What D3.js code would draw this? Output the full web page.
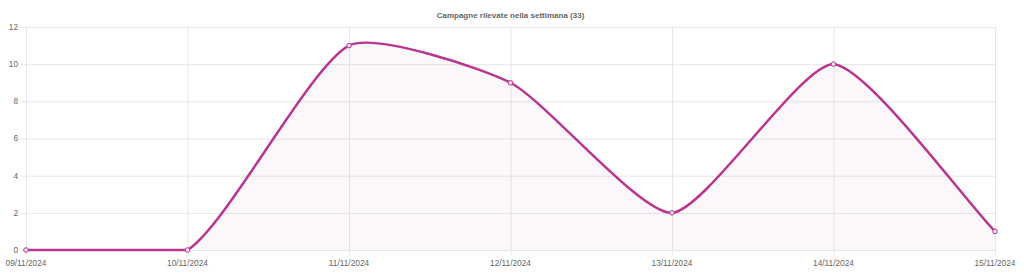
<!DOCTYPE html>
<html>
<head>
<meta charset="utf-8">
<script src="https://cdn.jsdelivr.net/npm/d3@7"></script>
<style>
  body { margin: 0; background: #fff; }
  svg { display: block; font-family: "Liberation Sans", Arial, sans-serif; }
</style>
</head>
<body>
<svg></svg>
<script>
const days = ["09/11/2024", "10/11/2024", "11/11/2024", "12/11/2024", "13/11/2024", "14/11/2024", "15/11/2024"];
const campaigns = [0, 0, 11, 9, 2, 10, 1];
const yTicks = [0, 2, 4, 6, 8, 10, 12];
const title = "Campagne rilevate nella settimana (33)";

const width = 1024, height = 274;
const margin = { top: 27, right: 29, bottom: 24, left: 26 };
const lineColor = "#b8368f";

const svg = d3.select("svg").attr("width", width).attr("height", height);

const x = d3.scalePoint()
    .domain(days)
    .range([margin.left, width - margin.right]);

const y = d3.scaleLinear()
    .domain([0, 12])
    .range([height - margin.bottom, margin.top]);

// grid
svg.append("g").selectAll("line")
    .data(yTicks)
    .join("line")
    .attr("x1", margin.left - 5)
    .attr("x2", width - margin.right)
    .attr("y1", d => y(d) + 0.5)
    .attr("y2", d => y(d) + 0.5)
    .attr("stroke", "#e6e6e6");

svg.append("g").selectAll("line")
    .data(days)
    .join("line")
    .attr("x1", d => x(d) + 0.5)
    .attr("x2", d => x(d) + 0.5)
    .attr("y1", margin.top)
    .attr("y2", height - margin.bottom + 5)
    .attr("stroke", "#e6e6e6");

// y labels
svg.append("g").selectAll("text")
    .data(yTicks)
    .join("text")
    .attr("x", margin.left - 8)
    .attr("y", d => y(d))
    .attr("dy", "0.35em")
    .attr("text-anchor", "end")
    .attr("font-size", 8.3)
    .attr("fill", "#666")
    .text(d => d);

// x labels
svg.append("g").selectAll("text")
    .data(days)
    .join("text")
    .attr("x", d => x(d))
    .attr("y", height - margin.bottom + 16)
    .attr("text-anchor", "middle")
    .attr("font-size", 8.3)
    .attr("fill", "#666")
    .text(d => d);

// title
svg.append("text")
    .attr("x", (margin.left + width - margin.right) / 2)
    .attr("y", 18)
    .attr("text-anchor", "middle")
    .attr("font-size", 8)
    .attr("font-weight", "bold")
    .attr("fill", "#666")
    .text(title);

// points in pixel space
const pts = days.map((d, i) => ({ x: x(d), y: y(campaigns[i]) }));

// spline like chart.js (control points kept inside the area)
function splinePath(p, closeToBase) {
    const t = 0.2;
    const cps = p.map((cur, i) => {
        const prev = p[i - 1] || cur, next = p[i + 1] || cur;
        const d01 = Math.hypot(cur.x - prev.x, cur.y - prev.y);
        const d12 = Math.hypot(next.x - cur.x, next.y - cur.y);
        let s01 = d01 / (d01 + d12), s12 = d12 / (d01 + d12);
        if (isNaN(s01)) s01 = 0;
        if (isNaN(s12)) s12 = 0;
        const fa = t * s01, fb = t * s12;
        const clampY = v => Math.max(margin.top, Math.min(height - margin.bottom, v));
        return {
            px: cur.x - fa * (next.x - prev.x),
            py: clampY(cur.y - fa * (next.y - prev.y)),
            nx: cur.x + fb * (next.x - prev.x),
            ny: clampY(cur.y + fb * (next.y - prev.y))
        };
    });
    const path = d3.path();
    path.moveTo(p[0].x, p[0].y);
    for (let i = 1; i < p.length; i++) {
        path.bezierCurveTo(cps[i - 1].nx, cps[i - 1].ny, cps[i].px, cps[i].py, p[i].x, p[i].y);
    }
    if (closeToBase) {
        path.lineTo(p[p.length - 1].x, y(0));
        path.lineTo(p[0].x, y(0));
        path.closePath();
    }
    return path.toString();
}

svg.append("path")
    .attr("d", splinePath(pts, true))
    .attr("fill", lineColor)
    .attr("fill-opacity", 0.04);

svg.append("path")
    .attr("d", splinePath(pts, false))
    .attr("fill", "none")
    .attr("stroke", lineColor)
    .attr("stroke-width", 2.5);

svg.append("g").selectAll("circle")
    .data(pts)
    .join("circle")
    .attr("cx", d => d.x)
    .attr("cy", d => d.y)
    .attr("r", 2.3)
    .attr("fill", "#f6e1ef")
    .attr("stroke", lineColor)
    .attr("stroke-width", 1);
</script>
</body>
</html>
